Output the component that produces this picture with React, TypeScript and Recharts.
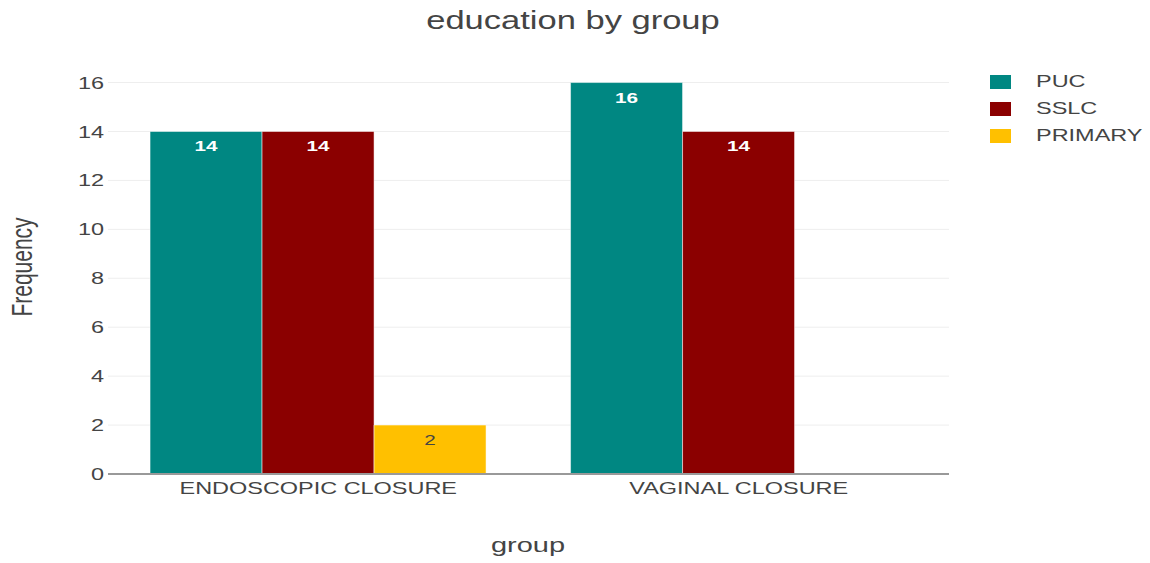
import React from 'react';
import {
  BarChart,
  Bar,
  XAxis,
  YAxis,
  CartesianGrid,
  LabelList,
} from 'recharts';

const groups = ['ENDOSCOPIC CLOSURE', 'VAGINAL CLOSURE'];
const puc = [14, 16];
const sslc = [14, 14];
const primary = [2, 0];
const yTicks = [0, 2, 4, 6, 8, 10, 12, 14, 16];

const series = [
  { key: 'PUC', color: '#008782', labelColor: '#ffffff', bold: true },
  { key: 'SSLC', color: '#8b0000', labelColor: '#ffffff', bold: true },
  { key: 'PRIMARY', color: '#ffc000', labelColor: '#444444', bold: false },
];

const data = groups.map((g, i) => ({
  group: g,
  PUC: puc[i],
  SSLC: sslc[i],
  PRIMARY: primary[i],
}));

const FONT = '"Liberation Sans", Arial, sans-serif';
// the reference text is drawn wide, so stretch it sideways
const SX = 1.38;

const makeLabel = (color: string, bold: boolean) => (props: any) => {
  const { x, y, width, value } = props;
  if (!value) return null;
  return (
    <g transform={`translate(${x + width / 2},${y + 15})`}>
      <text
        transform={`scale(${SX},1)`}
        textAnchor="middle"
        dominantBaseline="central"
        fill={color}
        fontSize={15}
        fontWeight={bold ? 'bold' : 'normal'}
        fontFamily={FONT}
      >
        {value}
      </text>
    </g>
  );
};

const XTick = (props: any) => {
  const { x, y, payload } = props;
  return (
    <g transform={`translate(${x},${y})`}>
      <text transform={`scale(${SX},1)`} textAnchor="middle" dy="0.71em" fill="#444" fontSize={17} fontFamily={FONT}>
        {payload.value}
      </text>
    </g>
  );
};

const YTick = (props: any) => {
  const { y, payload } = props;
  return (
    <g transform={`translate(104,${y})`}>
      <text transform={`scale(${SX},1)`} textAnchor="end" dy="0.355em" fill="#444" fontSize={17} fontFamily={FONT}>
        {payload.value}
      </text>
    </g>
  );
};

export default function App() {
  return (
    <div style={{ position: 'absolute', left: 0, top: 0, width: 1150, height: 563, background: '#fff', fontFamily: FONT }}>
      <div
        style={{
          position: 'absolute',
          top: 6,
          left: 0,
          width: 1146,
          textAlign: 'center',
          fontSize: 25,
          color: '#444',
          transform: `scaleX(${SX})`,
          transformOrigin: '573px 0',
        }}
      >
        education by group
      </div>
      <div style={{ position: 'absolute', left: 990, top: 68, fontSize: 17, color: '#444' }}>
        {series.map((s) => (
          <div key={s.key} style={{ display: 'flex', alignItems: 'center', height: 27 }}>
            <span style={{ width: 21, height: 14, background: s.color, display: 'inline-block' }} />
            <span style={{ marginLeft: 25, display: 'inline-block', transform: `scaleX(${SX})`, transformOrigin: 'left center' }}>
              {s.key}
            </span>
          </div>
        ))}
      </div>
      <div
        style={{
          position: 'absolute',
          left: 428,
          top: 533,
          width: 200,
          textAlign: 'center',
          fontSize: 21,
          color: '#444',
          transform: `scaleX(${SX})`,
          transformOrigin: 'center',
          zIndex: 2,
        }}
      >
        group
      </div>
      <div
        style={{
          position: 'absolute',
          left: -78,
          top: 255,
          width: 200,
          textAlign: 'center',
          fontSize: 21,
          color: '#444',
          transform: `scaleX(${SX}) rotate(-90deg)`,
          transformOrigin: 'center',
          zIndex: 2,
        }}
      >
        Frequency
      </div>
      <BarChart
        width={1150}
        height={563}
        data={data}
        margin={{ top: 62, right: 201, left: 46, bottom: 0 }}
        barCategoryGap="10%"
        barGap={0}
      >
        <CartesianGrid vertical={false} stroke="#eeeeee" syncWithTicks />
        <XAxis
          dataKey="group"
          tickLine={false}
          axisLine={{ stroke: '#999', strokeWidth: 2 }}
          tick={<XTick />}
          tickMargin={2}
          height={89}
        />
        <YAxis
          domain={[0, 16.84]}
          ticks={yTicks}
          allowDataOverflow
          tickLine={false}
          axisLine={false}
          width={62}
          tick={<YTick />}
        />
        {series.map((s) => (
          <Bar
            key={s.key}
            dataKey={s.key}
            fill={s.color}
            stroke="#ffffff"
            strokeWidth={0.5}
            isAnimationActive={false}
          >
            <LabelList dataKey={s.key} content={makeLabel(s.labelColor, s.bold)} />
          </Bar>
        ))}
      </BarChart>
    </div>
  );
}
